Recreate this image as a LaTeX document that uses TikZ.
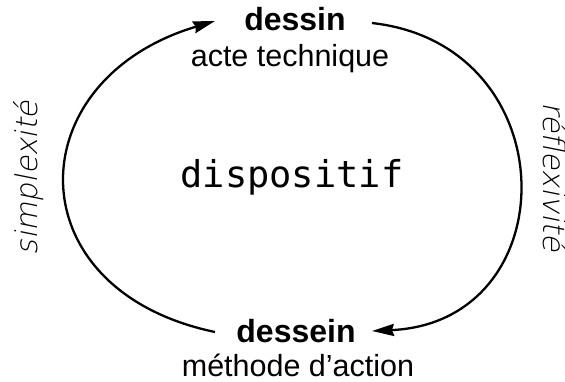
\documentclass[tikz,border=0pt]{standalone}
\usepackage{fontspec}
\setmainfont{Liberation Sans}
\newfontfamily\sidefont[FakeSlant=0.2]{DejaVu Sans ExtraLight}
\newfontfamily\monofont{DejaVu Sans Mono}
\usetikzlibrary{arrows.meta}
\begin{document}
\begin{tikzpicture}[x=1pt,y=-1pt,
  boldlbl/.style={anchor=base,inner sep=0pt,font=\fontsize{32}{38}\selectfont\bfseries},
  sublbl/.style={anchor=base,inner sep=0pt,font=\fontsize{30.5}{36}\selectfont},
  monolbl/.style={anchor=base,inner sep=0pt,font=\monofont\fontsize{37}{44}\selectfont},
  sidelbl/.style={anchor=base,inner sep=0pt,text=black,font=\sidefont\fontsize{30}{36}\selectfont},
  arc/.style={line width=2.3pt,-{Stealth[length=22pt,width=12pt,inset=2pt]}}]
\useasboundingbox (0,0) rectangle (565,381);
\node[boldlbl] (dessin) at (295,30) {dessin};
\node[sublbl] (acte) at (290,66) {acte technique};
\node[boldlbl] (dessein) at (296,342) {dessein};
\node[sublbl] (methode) at (298,376) {méthode d’action};
\node[monolbl] (dispo) at (292,187) {dispositif};
\node[sidelbl,rotate=90] (simp) at (37,178) {simplexité};
\node[sidelbl,rotate=-90] (refl) at (543,177) {réflexivité};
\coordinate (L0) at (215,332);
\coordinate (L1) at (215,21);
\coordinate (R0) at (372,23);
\coordinate (R1) at (372,331);
\draw[arc] (L0) .. controls (14,290) and (17,80) .. (L1);
\draw[arc] (R0) .. controls (568,45) and (568,322) .. (R1);
\end{tikzpicture}
\end{document}
